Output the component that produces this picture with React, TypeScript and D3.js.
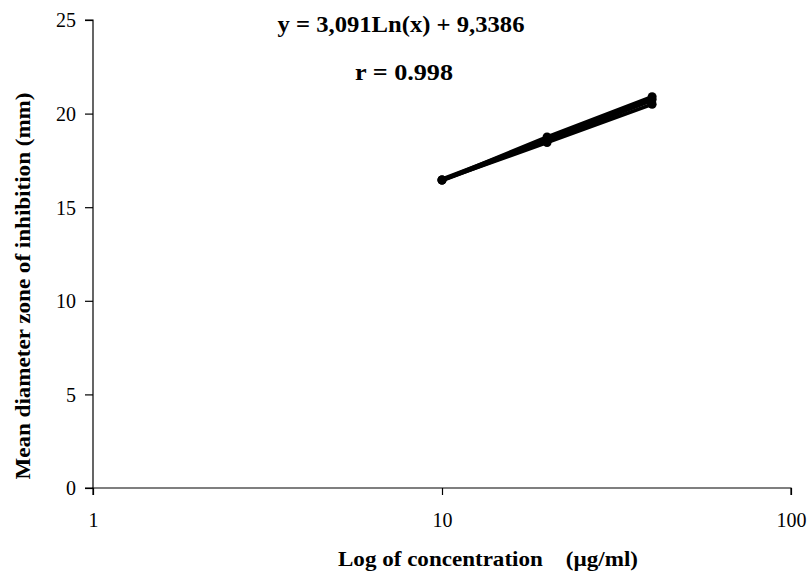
import React, { useEffect, useRef } from 'react';
import * as d3 from 'd3';

// concentrations (µg/ml) and replicate zone diameters (mm)
const concentrations = [10, 20, 40];
const rep1 = [16.45, 18.75, 20.9];
const rep2 = [16.45, 18.45, 20.5];
const rep3 = [16.45, 18.6, 20.75];
const xTicks = [1, 10, 100];
const yTicks = [0, 5, 10, 15, 20, 25];
const slope = 3.091;
const intercept = 9.3386;

export default function App() {
  const svgRef = useRef<SVGSVGElement>(null);

  useEffect(() => {
    const svg = d3.select(svgRef.current);
    svg.selectAll('*').remove();
    const font = '"Liberation Serif", "Times New Roman", serif';

    const x = d3.scaleLog().domain([1, 100]).range([93, 791]);
    const y = d3.scaleLinear().domain([0, 25]).range([488, 20]);

    const g = svg.append('g');

    // axes
    const yAxis = g.append('g').attr('transform', 'translate(93,0)')
      .call(d3.axisLeft(y).tickValues(yTicks).tickSize(8).tickPadding(9).tickFormat(d3.format('d')));
    yAxis.select('.domain').attr('stroke', '#000').attr('stroke-width', 1.2).attr('d', `M-8,${y(25)}H0V${y(0)}H-8`);
    yAxis.selectAll('.tick line').attr('stroke-width', 1.2);
    yAxis.selectAll('text').style('font-family', font).style('font-size', '20px').attr('fill', '#000').attr('dy', '0.34em');

    const xAxis = g.append('g').attr('transform', 'translate(0,488)')
      .call(d3.axisBottom(x).tickValues(xTicks).tickSize(7).tickPadding(0).tickFormat(d3.format('d')));
    xAxis.select('.domain').attr('stroke', '#000').attr('stroke-width', 1.2).attr('d', `M${x(1)},7V0H${x(100)}V7`);
    xAxis.selectAll('.tick line').attr('stroke-width', 1.2);
    xAxis.selectAll('text').style('font-family', font).style('font-size', '20px').attr('fill', '#000')
      .attr('y', 39).attr('dy', null);

    // trend line
    const trend = concentrations.map(c => ({ c, v: slope * Math.log(c) + intercept }));
    const line = d3.line<{ c: number; v: number }>().x(d => x(d.c)).y(d => y(d.v));
    g.append('path').datum(trend).attr('d', line).attr('fill', 'none').attr('stroke', '#000').attr('stroke-width', 5);

    [rep1, rep2, rep3].forEach(rep => {
      const pts = concentrations.map((c, i) => ({ c, v: rep[i] }));
      g.append('path').datum(pts).attr('d', line).attr('fill', 'none').attr('stroke', '#000').attr('stroke-width', 3.5);
      g.selectAll(null).data(pts).enter().append('circle')
        .attr('cx', d => x(d.c)).attr('cy', d => y(d.v)).attr('r', 4.5).attr('fill', '#000');
    });

    // labels
    g.append('text').attr('x', 401).attr('y', 32).attr('text-anchor', 'middle')
      .style('font-family', font).style('font-size', '24px').style('font-weight', 'bold')
      .attr('textLength', 247).attr('lengthAdjust', 'spacingAndGlyphs')
      .text('y = 3,091Ln(x) + 9,3386');
    g.append('text').attr('x', 404).attr('y', 80).attr('text-anchor', 'middle')
      .style('font-family', font).style('font-size', '24px').style('font-weight', 'bold')
      .attr('textLength', 98).attr('lengthAdjust', 'spacingAndGlyphs')
      .text('r = 0.998');

    g.append('text').attr('x', 488).attr('y', 566).attr('text-anchor', 'middle')
      .style('font-family', font).style('font-size', '22px').style('font-weight', 'bold')
      .attr('xml:space', 'preserve').style('white-space', 'pre')
      .attr('textLength', 300).attr('lengthAdjust', 'spacingAndGlyphs')
      .text('Log of concentration    (\u00b5g/ml)');
    g.append('text').attr('transform', 'translate(30,286) rotate(-90)').attr('text-anchor', 'middle')
      .style('font-family', font).style('font-size', '22px').style('font-weight', 'bold')
      .attr('textLength', 387).attr('lengthAdjust', 'spacingAndGlyphs')
      .text('Mean diameter zone of inhibition (mm)');
  }, []);

  return (
    <svg ref={svgRef} width={808} height={572}
      style={{ position: 'absolute', left: 0, top: 0, background: '#fff' }} />
  );
}
